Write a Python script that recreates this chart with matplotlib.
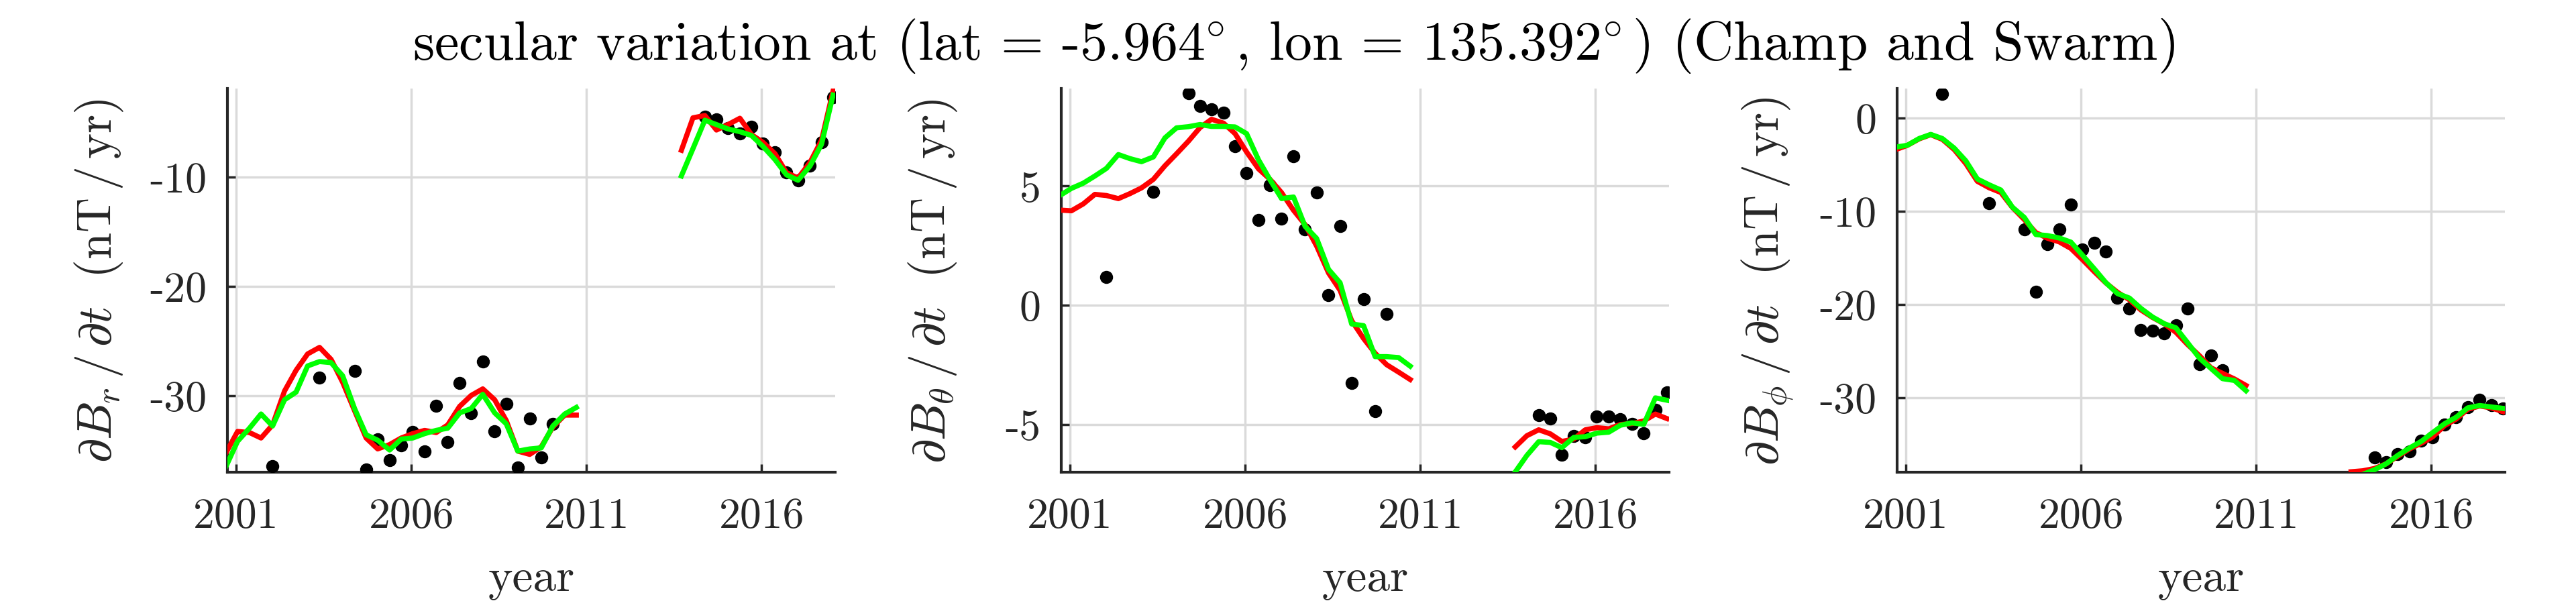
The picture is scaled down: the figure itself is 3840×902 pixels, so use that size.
import numpy as np
import matplotlib
matplotlib.use('Agg')
import matplotlib.pyplot as plt

plt.rcParams['font.family'] = 'serif'
plt.rcParams['font.serif'] = ['cmr10']
plt.rcParams['mathtext.fontset'] = 'cm'
plt.rcParams['axes.formatter.use_mathtext'] = True

# time samples (decimal year)
t_champ = [2000.71, 2001.04, 2001.38, 2001.71, 2002.04, 2002.38, 2002.71, 2003.04,
           2003.38, 2003.71, 2004.04, 2004.38, 2004.71, 2005.04, 2005.38, 2005.71,
           2006.04, 2006.38, 2006.71, 2007.04, 2007.38, 2007.71, 2008.04, 2008.38,
           2008.71, 2009.04, 2009.38, 2009.71, 2010.04, 2010.38, 2010.71]
t_swarm = [2013.71, 2014.04, 2014.38, 2014.71, 2015.04, 2015.38, 2015.71, 2016.04,
           2016.38, 2016.71, 2017.04, 2017.38, 2017.71, 2018.04]
t_obs_champ = [2002.04, 2003.38, 2004.38, 2004.71, 2005.04, 2005.38, 2005.71, 2006.04,
               2006.38, 2006.71, 2007.04, 2007.38, 2007.71, 2008.04, 2008.38, 2008.71,
               2009.04, 2009.38, 2009.71, 2010.04]
t_obs_swarm = [2014.38, 2014.71, 2015.04, 2015.38, 2015.71, 2016.04, 2016.38, 2016.71,
               2017.04, 2017.38, 2017.71, 2018.04]

# dBr/dt
br_red_c = [-35.25, -33.3, -33.4, -33.9, -32.7, -29.6, -27.7, -26.2, -25.6, -26.7, -28.8,
            -31.4, -33.9, -34.9, -34.5, -33.9, -33.5, -33.2, -33.4, -32.7, -31.0, -30.0,
            -29.4, -30.4, -32.3, -35.1, -35.4, -34.7, -32.9, -31.8, -31.8]
br_grn_c = [-36.5, -34.2, -33.0, -31.7, -32.8, -30.4, -29.7, -27.3, -26.9, -27.0, -28.2,
            -31.2, -33.6, -34.1, -35.0, -34.0, -33.9, -33.5, -33.2, -33.0, -31.6, -31.2,
            -29.9, -31.6, -32.6, -35.1, -34.9, -34.8, -32.8, -31.7, -31.1]
br_obs_c = [-36.45, -28.4, -27.74, -36.76, -34.0, -35.9, -34.56, -33.36, -35.1, -30.94,
            -34.25, -28.87, -31.6, -26.9, -33.3, -30.75, -36.6, -32.1, -35.7, -32.58]
br_red_s = [-7.55, -4.58, -4.37, -5.7, -5.2, -4.62, -6.12, -6.83, -7.86, -9.6, -10.1,
            -8.67, -6.63, -2.1]
br_grn_s = [-9.9, -7.4, -4.8, -5.2, -5.6, -5.85, -6.2, -7.2, -8.4, -9.8, -10.3, -9.0,
            -7.0, -2.5]
br_obs_s = [-4.47, -4.74, -5.5, -6.02, -5.41, -6.95, -7.76, -9.6, -10.3, -8.94, -6.8, -2.7]

# dBtheta/dt
bt_red_c = [3.99, 3.96, 4.25, 4.65, 4.6, 4.47, 4.68, 4.92, 5.28, 5.85, 6.35, 6.88, 7.45,
            7.8, 7.64, 7.2, 6.43, 5.72, 5.28, 4.72, 3.98, 3.38, 2.48, 1.35, 0.62, -0.65,
            -1.4, -2.02, -2.5, -2.81, -3.12]
bt_grn_c = [4.6, 4.9, 5.12, 5.42, 5.74, 6.32, 6.15, 6.02, 6.22, 7.02, 7.44, 7.49, 7.58,
            7.5, 7.5, 7.48, 7.2, 6.1, 5.26, 4.47, 4.54, 3.31, 2.8, 1.5, 0.94, -0.79, -0.86,
            -2.16, -2.16, -2.2, -2.56]
bt_obs_c = [1.18, 4.76, 8.89, 8.36, 8.21, 8.07, 6.66, 5.55, 3.56, 5.04, 3.63, 6.24, 3.17,
            4.73, 0.43, 3.31, -3.27, 0.26, -4.44, -0.36]
bt_red_s = [-5.95, -5.48, -5.23, -5.4, -5.72, -5.62, -5.23, -5.14, -5.19, -5.01, -4.97,
            -4.86, -4.57, -4.76]
bt_grn_s = [-7.0, -6.31, -5.73, -5.76, -5.98, -5.55, -5.52, -5.37, -5.33, -5.04, -4.94,
            -5.0, -3.89, -3.99]
bt_obs_s = [-4.61, -4.76, -6.27, -5.48, -5.55, -4.68, -4.68, -4.8, -4.97, -5.37, -4.4, -3.67]

# dBphi/dt
bp_red_c = [-3.4, -2.95, -2.25, -1.8, -2.3, -3.4, -4.9, -6.8, -7.5, -8.0, -9.6, -10.9,
            -12.3, -12.9, -13.3, -14.0, -15.2, -16.5, -17.7, -18.7, -19.5, -20.6, -21.4,
            -22.1, -23.0, -24.3, -25.5, -26.8, -27.4, -28.0, -28.7]
bp_grn_c = [-3.13, -2.94, -2.21, -1.77, -2.21, -3.24, -4.6, -6.55, -7.18, -7.73, -9.57,
            -10.67, -12.51, -12.62, -12.88, -13.32, -14.72, -16.19, -17.67, -18.84, -19.32,
            -20.43, -21.35, -22.08, -22.52, -24.1, -25.76, -26.87, -27.97, -28.16, -29.26]
bp_obs_c = [2.58, -9.13, -11.96, -18.66, -13.54, -11.96, -9.27, -14.1, -13.43, -14.35,
            -19.32, -20.43, -22.75, -22.82, -23.11, -22.27, -20.43, -26.43, -25.5, -27.05]
bp_red_s = [-37.95, -37.85, -37.6, -37.1, -36.3, -35.5, -34.9, -34.2, -33.0, -32.3, -31.25,
            -30.9, -31.1, -31.5]
bp_grn_s = [-40.0, -38.24, -37.73, -37.1, -36.2, -35.4, -34.7, -33.75, -32.8, -32.1, -31.1,
            -30.85, -31.0, -31.15]
bp_obs_s = [-36.45, -36.9, -36.05, -35.8, -34.6, -34.27, -32.9, -32.1, -31.0, -30.2, -30.8,
            -31.15]

year_ticks = [2001, 2006, 2011, 2016]
ylabels = [r'$\partial B_r\,/\,\partial t\ \ (\mathrm{nT}\,/\,\mathrm{yr})$',
           r'$\partial B_\theta\,/\,\partial t\ \ (\mathrm{nT}\,/\,\mathrm{yr})$',
           r'$\partial B_\phi\,/\,\partial t\ \ (\mathrm{nT}\,/\,\mathrm{yr})$']
yticks = [[-30, -20, -10], [-5, 0, 5], [-30, -20, -10, 0]]
ylims = [(-37.03, -1.9), (-7.01, 9.09), (-38.0, 3.15)]

panels = [
    (br_red_c, br_grn_c, br_obs_c, br_red_s, br_grn_s, br_obs_s),
    (bt_red_c, bt_grn_c, bt_obs_c, bt_red_s, bt_grn_s, bt_obs_s),
    (bp_red_c, bp_grn_c, bp_obs_c, bp_red_s, bp_grn_s, bp_obs_s),
]

W, H = 3841, 903
fig = plt.figure(figsize=(W / 100, H / 100), dpi=100)
lefts = [339, 1582, 2828]
dark = '#262626'

for i, (rc, gc, oc, rs, gs, os_) in enumerate(panels):
    ax = fig.add_axes([lefts[i] / W, 198 / H, 906 / W, 572 / H])
    ax.plot(t_obs_champ, oc, 'o', color='k', ms=13, zorder=3)
    ax.plot(t_obs_swarm, os_, 'o', color='k', ms=13, zorder=3)
    ax.plot(t_champ, rc, color='#ff0000', lw=5.5, zorder=4)
    ax.plot(t_swarm, rs, color='#ff0000', lw=5.5, zorder=4)
    ax.plot(t_champ, gc, color='#00ff00', lw=5.5, zorder=5)
    ax.plot(t_swarm, gs, color='#00ff00', lw=5.5, zorder=5)

    ax.set_xlim(2000.75, 2018.1)
    ax.set_ylim(*ylims[i])
    ax.set_xticks(year_ticks)
    ax.set_xticklabels([str(y) for y in year_ticks])
    ax.set_yticks(yticks[i])
    ax.set_yticklabels(['%d' % v for v in yticks[i]])
    ax.grid(True, color='#dadada', lw=2.5)
    ax.set_axisbelow(True)
    for s in ['top', 'right']:
        ax.spines[s].set_visible(False)
    for s in ['left', 'bottom']:
        ax.spines[s].set_linewidth(3)
        ax.spines[s].set_color(dark)
    ax.tick_params(direction='in', length=8.5, width=2.5, colors=dark, labelsize=46)
    ax.tick_params(axis='x', pad=27)
    ax.tick_params(axis='y', pad=22)
    ax.set_xlabel('year', fontsize=50, color=dark)
    ax.xaxis.set_label_coords(0.5, -0.225)
    ax.set_ylabel(ylabels[i], fontsize=52, color=dark)
    ax.yaxis.set_label_coords(-0.168, 0.5)

fig.text(0.502, 1 - 89 / H,
         r'secular variation at (lat = -5.964$\!^\circ$, lon = 135.392$\!^\circ$) (Champ and Swarm)',
         ha='center', va='baseline', fontsize=59)

fig.savefig('out.png', dpi=100)
